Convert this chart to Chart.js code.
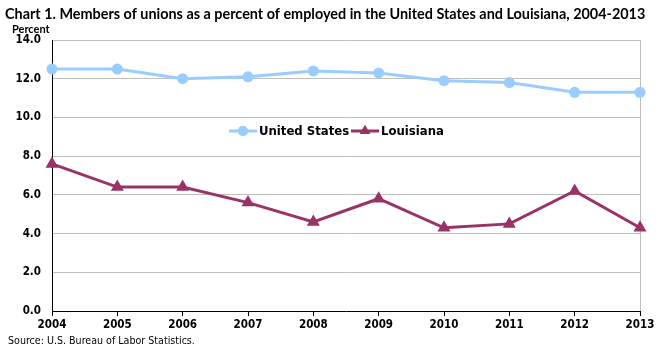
<!DOCTYPE html>
<html>
<head>
<meta charset="utf-8">
<script src="https://cdn.jsdelivr.net/npm/chart.js@4/dist/chart.umd.min.js"></script>
<style>
  html, body { margin: 0; padding: 0; background: #fff; }
  #wrap { position: relative; width: 664px; height: 351px; }
</style>
</head>
<body>
<div id="wrap"><canvas id="union-chart" width="664" height="351"></canvas></div>
<script>
// Chart data
const years = ['2004', '2005', '2006', '2007', '2008', '2009', '2010', '2011', '2012', '2013'];
const unitedStates = [12.5, 12.5, 12.0, 12.1, 12.4, 12.3, 11.9, 11.8, 11.3, 11.3];
const louisiana = [7.6, 6.4, 6.4, 5.6, 4.6, 5.8, 4.3, 4.5, 6.2, 4.3];

const titleText = 'Chart 1. Members of unions as a percent of employed in the United States and Louisiana, 2004-2013';
const sourceText = 'Source: U.S. Bureau of Labor Statistics.';

const US_COLOR = '#99ccff';
const LA_COLOR = '#993366';
const TICK_FONT = { family: '"DejaVu Sans Condensed", "DejaVu Sans", sans-serif', size: 11.5, weight: 'bold' };

// Draws title, axis caption, source note and the in-plot legend
const annotations = {
  id: 'annotations',
  afterDraw(chart) {
    const ctx = chart.ctx;
    ctx.save();
    ctx.fillStyle = '#000';
    ctx.textBaseline = 'middle';

    ctx.font = 'bold 14.4px Lato, sans-serif';
    ctx.fillText(titleText, 5, 14);

    ctx.font = 'bold 11px Lato, sans-serif';
    ctx.fillText('Percent', 12, 29);

    ctx.font = '10.6px "DejaVu Sans Condensed", "DejaVu Sans", sans-serif';
    ctx.fillText(sourceText, 8, 341);

    // legend
    const y = 131;
    const items = [
      { label: 'United States', color: US_COLOR, x: 229, style: 'circle', r: 5 },
      { label: 'Louisiana', color: LA_COLOR, x: 351, style: 'triangle', r: 6 }
    ];
    ctx.font = 'bold 13px "DejaVu Sans Condensed", "DejaVu Sans", sans-serif';
    items.forEach(item => {
      ctx.strokeStyle = item.color;
      ctx.lineWidth = 3;
      ctx.beginPath();
      ctx.moveTo(item.x, y);
      ctx.lineTo(item.x + 28, y);
      ctx.stroke();
      ctx.fillStyle = item.color;
      Chart.helpers.drawPoint(ctx, { pointStyle: item.style, radius: item.r, rotation: 0 }, item.x + 14, y);
      ctx.fill();
      ctx.fillStyle = '#000';
      ctx.fillText(item.label, item.x + 30, y + 1);
    });
    ctx.restore();
  }
};

new Chart(document.getElementById('union-chart'), {
  type: 'line',
  data: {
    labels: years,
    datasets: [
      {
        label: 'United States',
        data: unitedStates,
        borderColor: US_COLOR,
        backgroundColor: US_COLOR,
        borderWidth: 3,
        pointStyle: 'circle',
        pointRadius: 5.5,
        pointBorderWidth: 0,
        tension: 0,
        clip: false
      },
      {
        label: 'Louisiana',
        data: louisiana,
        borderColor: LA_COLOR,
        backgroundColor: LA_COLOR,
        borderWidth: 3,
        pointStyle: 'triangle',
        pointRadius: 7.5,
        pointBorderWidth: 0,
        tension: 0,
        clip: false
      }
    ]
  },
  options: {
    responsive: false,
    animation: false,
    events: [],
    layout: { padding: { top: 40, left: 0, right: 24, bottom: 0 } },
    plugins: {
      legend: { display: false },
      title: { display: false },
      tooltip: { enabled: false }
    },
    scales: {
      x: {
        offset: false,
        grid: {
          drawOnChartArea: true,
          color: c => c.index === years.length - 1 ? '#bfbfbf' : 'rgba(0,0,0,0)',
          tickColor: '#000',
          tickLength: 5
        },
        border: { color: '#000', width: 1 },
        ticks: { color: '#000', font: TICK_FONT, padding: 2, maxRotation: 0, autoSkip: false },
        afterFit(scale) { scale.height = 40; }
      },
      y: {
        min: 0,
        max: 14,
        grid: { color: '#bfbfbf', drawTicks: false },
        border: { color: '#000', width: 1 },
        ticks: {
          stepSize: 2,
          color: '#000',
          font: TICK_FONT,
          padding: 11,
          callback: v => v.toFixed(1)
        },
        afterFit(scale) { scale.width = 52; }
      }
    }
  },
  plugins: [annotations]
});
</script>
</body>
</html>
